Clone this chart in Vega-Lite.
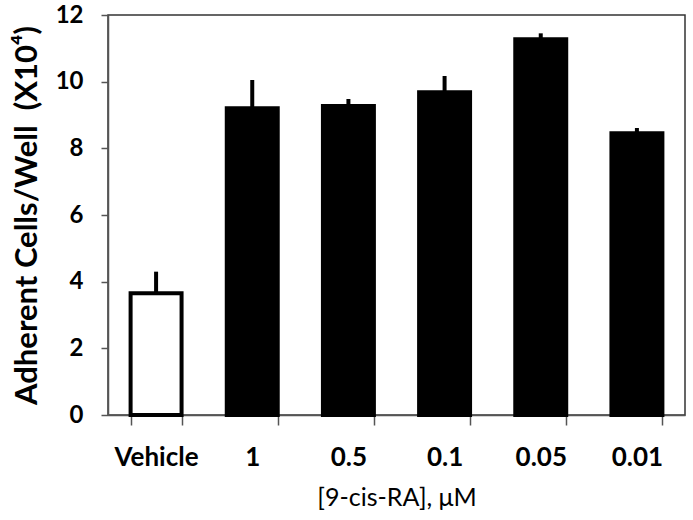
{
  "$schema": "https://vega.github.io/schema/vega-lite/v6.json",
  "width": 577,
  "height": 400,
  "autosize": {"type": "none"},
  "padding": {"left": 108, "top": 15, "right": 8, "bottom": 105},
  "config": {
    "font": "Lato",
    "view": {"stroke": "#333333", "strokeWidth": 1.5},
    "axis": {"grid": false, "domainColor": "#555555", "tickColor": "#555555", "domainWidth": 1.5, "tickWidth": 1.5, "labelColor": "black", "titleColor": "black"}
  },
  "data": {
    "values": [
      {"treatment": "Vehicle", "cells": 3.65, "upper": 4.3, "group": "vehicle"},
      {"treatment": "1", "cells": 9.2, "upper": 10.05, "group": "treated"},
      {"treatment": "0.5", "cells": 9.27, "upper": 9.48, "group": "treated"},
      {"treatment": "0.1", "cells": 9.68, "upper": 10.17, "group": "treated"},
      {"treatment": "0.05", "cells": 11.27, "upper": 11.45, "group": "treated"},
      {"treatment": "0.01", "cells": 8.45, "upper": 8.61, "group": "treated"}
    ]
  },
  "encoding": {
    "x": {
      "field": "treatment",
      "type": "nominal",
      "sort": null,
      "scale": {"paddingInner": 0.47, "paddingOuter": 0.235},
      "axis": {
        "title": "[9-cis-RA], μM",
        "titleFontSize": 25,
        "titleFontWeight": "normal",
        "titlePadding": 15,
        "labelAngle": 0,
        "labelFontSize": 26,
        "labelFontWeight": "bold",
        "labelPadding": 19,
        "tickBand": "extent",
        "tickSize": 10
      }
    }
  },
  "layer": [
    {
      "mark": {"type": "rule", "strokeWidth": 4, "color": "black"},
      "encoding": {
        "y": {"field": "cells", "type": "quantitative"},
        "y2": {"field": "upper"}
      }
    },
    {
      "mark": {"type": "bar", "stroke": "black", "strokeWidth": 4},
      "encoding": {
        "y": {
          "field": "cells",
          "type": "quantitative",
          "scale": {"domain": [0, 12], "nice": false},
          "axis": {
            "title": "Adherent Cells/Well\u00a0\u00a0(X10⁴)",
            "titleFontSize": 31,
            "titleFontWeight": "bold",
            "titlePadding": 12,
            "values": [0, 2, 4, 6, 8, 10, 12],
            "labelFontSize": 24,
            "labelFontWeight": "bold",
            "labelPadding": 18,
            "tickSize": 7
          }
        },
        "fill": {
          "field": "group",
          "type": "nominal",
          "scale": {"domain": ["vehicle", "treated"], "range": ["white", "black"]},
          "legend": null
        }
      }
    }
  ]
}
